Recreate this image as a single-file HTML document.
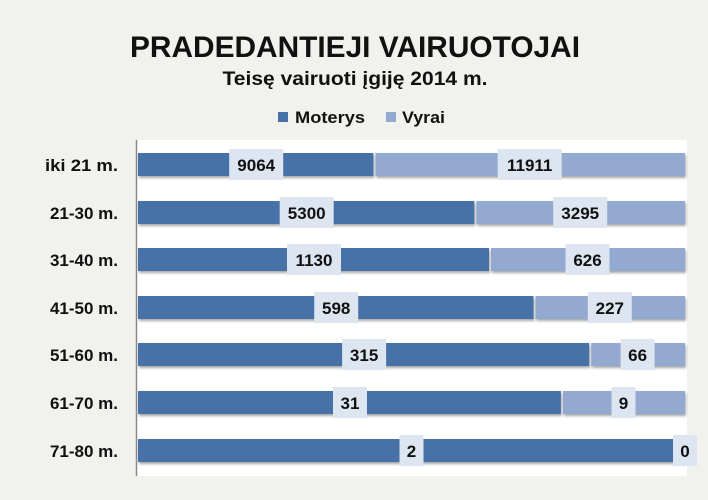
<!DOCTYPE html>
<html><head><meta charset="utf-8"><style>
body{margin:0;background:#f1f1ed;}
svg{display:block;font-family:"Liberation Sans",sans-serif;font-weight:bold;}
</style></head><body>
<svg width="708" height="500" viewBox="0 0 708 500">
<defs><filter id="sh" x="-5%" y="-20%" width="110%" height="160%"><feDropShadow dx="1" dy="2" stdDeviation="1.2" flood-color="#000" flood-opacity="0.35"/></filter></defs>
<rect width="708" height="500" fill="#f1f1ed"/>
<rect x="137" y="140" width="550" height="336" fill="#ffffff"/>
<text x="355" y="57" text-anchor="middle" font-size="30" textLength="450" lengthAdjust="spacingAndGlyphs" fill="#111">PRADEDANTIEJI VAIRUOTOJAI</text>
<text x="355" y="85" text-anchor="middle" font-size="19" textLength="265" lengthAdjust="spacingAndGlyphs" fill="#111">Teisę vairuoti įgiję 2014 m.</text>
<rect x="278" y="112" width="10" height="10" fill="#4672a8"/>
<text x="295" y="123" font-size="17" textLength="70" lengthAdjust="spacingAndGlyphs" fill="#111">Moterys</text>
<rect x="386" y="112" width="10" height="10" fill="#93a9d0"/>
<text x="402" y="123" font-size="17" textLength="43" lengthAdjust="spacingAndGlyphs" fill="#111">Vyrai</text>
<line x1="136.5" y1="140" x2="136.5" y2="476" stroke="#888" stroke-width="1.5"/>

<g font-size="17" fill="#111" text-anchor="end">
<text x="118" y="171" textLength="73" lengthAdjust="spacingAndGlyphs">iki 21 m.</text>
<text x="118" y="219">21-30 m.</text>
<text x="118" y="266">31-40 m.</text>
<text x="118" y="314">41-50 m.</text>
<text x="118" y="361">51-60 m.</text>
<text x="118" y="409">61-70 m.</text>
<text x="118" y="457">71-80 m.</text>
</g>

<g filter="url(#sh)">
<rect x="138" y="153" width="235.4" height="23" fill="#4672a8"/><rect x="375.4" y="153" width="309.6" height="23" fill="#93a9d0"/>
<rect x="138" y="201" width="336.3" height="23" fill="#4672a8"/><rect x="476.3" y="201" width="208.7" height="23" fill="#93a9d0"/>
<rect x="138" y="248" width="351" height="23" fill="#4672a8"/><rect x="491" y="248" width="194" height="23" fill="#93a9d0"/>
<rect x="138" y="296" width="395.5" height="23" fill="#4672a8"/><rect x="535.5" y="296" width="149.5" height="23" fill="#93a9d0"/>
<rect x="138" y="343" width="451.2" height="23" fill="#4672a8"/><rect x="591.2" y="343" width="93.8" height="23" fill="#93a9d0"/>
<rect x="138" y="391" width="422.9" height="23" fill="#4672a8"/><rect x="562.9" y="391" width="122.1" height="23" fill="#93a9d0"/>
<rect x="138" y="439" width="547" height="23" fill="#4672a8"/>
</g>

<g fill="#dde5f0">
<rect x="229.2" y="149" width="54" height="31"/><rect x="497.7" y="149" width="64" height="31"/>
<rect x="279.7" y="197" width="54" height="31"/><rect x="553.2" y="197" width="54" height="31"/>
<rect x="287" y="244" width="54" height="31"/><rect x="565.5" y="244" width="44" height="31"/>
<rect x="314.2" y="292" width="44" height="31"/><rect x="587.8" y="292" width="44" height="31"/>
<rect x="342.1" y="339" width="44" height="31"/><rect x="620.6" y="339" width="34" height="31"/>
<rect x="333" y="387" width="34" height="31"/><rect x="611.5" y="387" width="24" height="31"/>
<rect x="399.5" y="435" width="24" height="31"/><rect x="673" y="435" width="24" height="31"/>
</g>
<g font-size="17" fill="#111" text-anchor="middle">
<text x="256.2" y="171">9064</text><text x="529.7" y="171">11911</text>
<text x="306.7" y="219">5300</text><text x="580.2" y="219">3295</text>
<text x="314" y="266">1130</text><text x="587.5" y="266">626</text>
<text x="336.2" y="314">598</text><text x="609.8" y="314">227</text>
<text x="364.1" y="361">315</text><text x="637.6" y="361">66</text>
<text x="350" y="409">31</text><text x="623.5" y="409">9</text>
<text x="411.5" y="457">2</text><text x="685" y="457">0</text>
</g>
</svg>
</body></html>
